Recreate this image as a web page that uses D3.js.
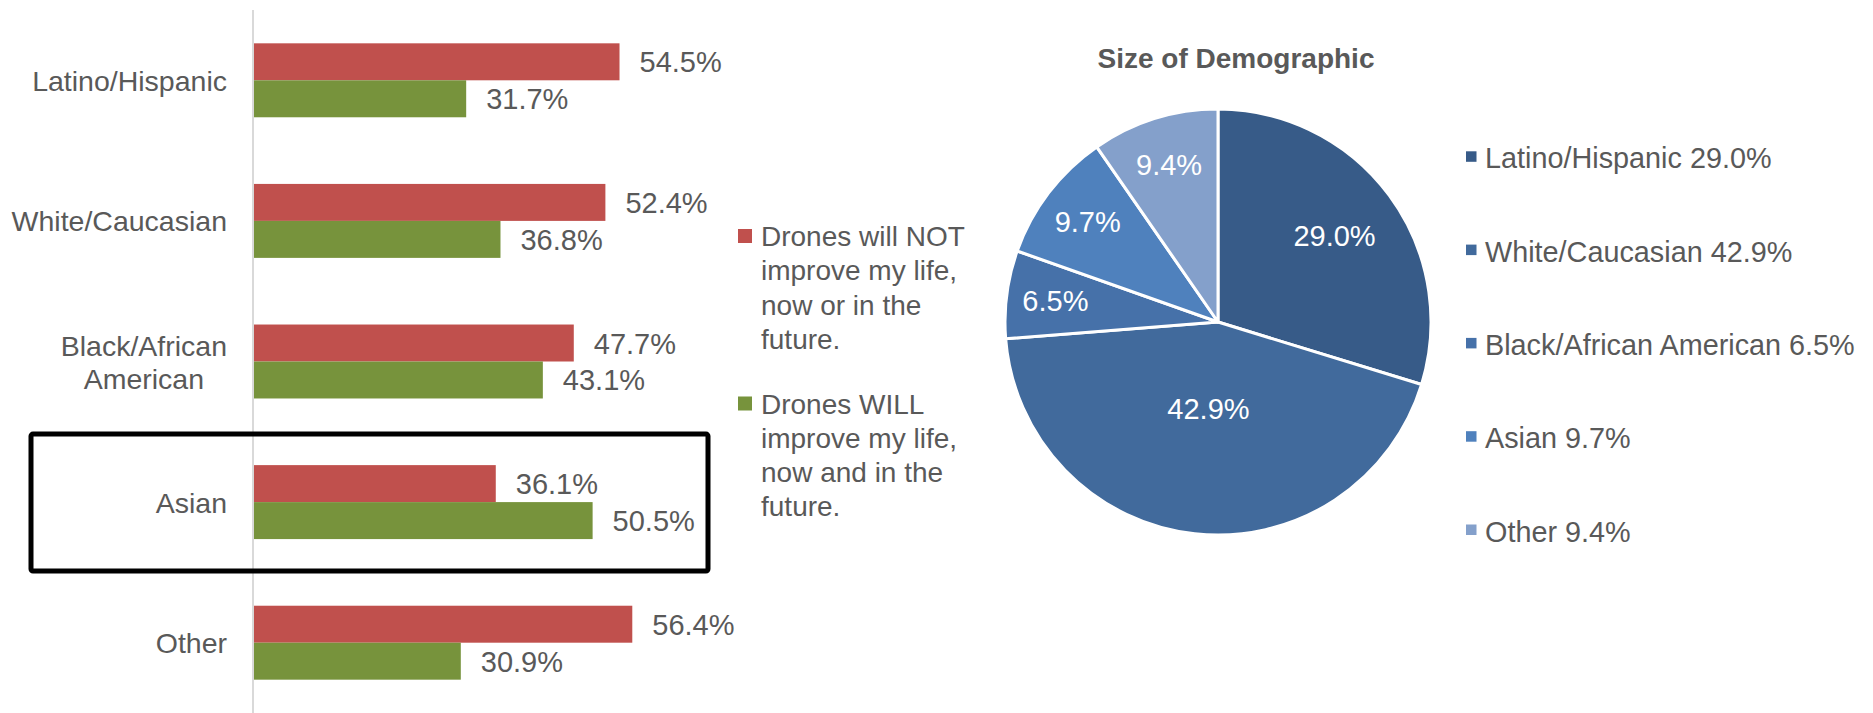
<!DOCTYPE html>
<html>
<head>
<meta charset="utf-8">
<script src="https://cdn.jsdelivr.net/npm/d3@7/dist/d3.min.js"></script>
<style>
  html, body { margin: 0; padding: 0; background: #ffffff; }
  svg { display: block; }
  text { font-family: "Liberation Sans", Arial, Helvetica, sans-serif; }
</style>
</head>
<body>
<svg id="chart" width="1873" height="713"></svg>
<script>
// ---------- data ----------
const categories = ["Latino/Hispanic", "White/Caucasian", "Black/African American", "Asian", "Other"];
const seriesNames = [
  "Drones will NOT improve my life, now or in the future.",
  "Drones WILL improve my life, now and in the future."
];
const notImprove = [54.5, 52.4, 47.7, 36.1, 56.4];
const willImprove = [31.7, 36.8, 43.1, 50.5, 30.9];
const pieTitle = "Size of Demographic";
const pieCategories = ["Latino/Hispanic", "White/Caucasian", "Black/African American", "Asian", "Other"];
const pieValues = [29.0, 42.9, 6.5, 9.7, 9.4];
const highlighted = "Asian";

// ---------- style ----------
const barColors = ["#C0504D", "#77933C"];
const pieColors = ["#375B88", "#416A9C", "#4671A9", "#4F81BD", "#84A0CB"];
const textColor = "#595959";
const catFont = 28.5, valFont = 29, legFont = 28, pieLegFont = 28.8, pieLblFont = 29, titleFont = 28;

const svg = d3.select("#chart");

// ---------- bar chart ----------
const x = d3.scaleLinear().domain([0, 60]).range([253, 656.5]);
const y = d3.scaleBand().domain(categories).range([10, 713]).paddingInner(0.474).paddingOuter(0.237);
const sub = d3.scaleBand().domain([0, 1]).range([0, y.bandwidth()]);
const series = [notImprove, willImprove];

const barG = svg.append("g");
series.forEach((vals, si) => {
  barG.selectAll(null).data(categories).enter().append("rect")
    .attr("x", x(0))
    .attr("y", d => y(d) + sub(si))
    .attr("width", (d, i) => x(vals[i]) - x(0))
    .attr("height", sub.bandwidth())
    .attr("fill", barColors[si]);
  barG.selectAll(null).data(categories).enter().append("text")
    .attr("x", (d, i) => x(vals[i]) + 20)
    .attr("y", d => y(d) + sub(si) + sub.bandwidth() / 2 + 10.5)
    .attr("font-size", valFont)
    .attr("fill", textColor)
    .text((d, i) => vals[i].toFixed(1) + "%");
});

// axis line (category axis)
const yAxis = d3.axisLeft(y).tickSize(0).tickFormat("");
const axG = svg.append("g").attr("transform", `translate(${x(0)},0)`).call(yAxis);
axG.select(".domain").attr("stroke", "#D9D9D9").attr("stroke-width", 2).attr("d", `M0,10V713`);

// text helpers
function wrapWords(text, maxW, measure) {
  const words = text.split(" ");
  const lines = [];
  let cur = "";
  words.forEach(w => {
    const t = cur ? cur + " " + w : w;
    if (cur && measure(t) > maxW) { lines.push(cur); cur = w; } else cur = t;
  });
  if (cur) lines.push(cur);
  return lines;
}
const measurer = svg.append("text").attr("visibility", "hidden");
function measure(t, size, weight) {
  measurer.attr("font-size", size).attr("font-weight", weight || "normal").text(t);
  return measurer.node().getComputedTextLength();
}

// category labels
const labelRight = 227;
categories.forEach(c => {
  const lines = wrapWords(c, 215, t => measure(t, catFont));
  const maxW = d3.max(lines, l => measure(l, catFont));
  const cy = y(c) + y.bandwidth() / 2;
  const lineH = 33;
  lines.forEach((l, i) => {
    const t = svg.append("text")
      .attr("font-size", catFont)
      .attr("fill", textColor)
      .attr("y", cy + 10.5 + (i - (lines.length - 1) / 2) * lineH)
      .text(l);
    if (lines.length > 1) t.attr("x", labelRight - maxW / 2).attr("text-anchor", "middle");
    else t.attr("x", labelRight).attr("text-anchor", "end");
  });
});

// highlight box
svg.append("rect")
  .attr("x", 31).attr("y", y(highlighted) - 31)
  .attr("width", 677).attr("height", 137)
  .attr("rx", 2)
  .attr("fill", "none").attr("stroke", "#000").attr("stroke-width", 5);

// bar legend
let legY = 246;
seriesNames.forEach((name, si) => {
  const lines = wrapWords(name, 220, t => measure(t, legFont));
  svg.append("rect").attr("x", 738).attr("y", legY - 17).attr("width", 14).attr("height", 14).attr("fill", barColors[si]);
  lines.forEach((l, i) => {
    svg.append("text").attr("x", 761).attr("y", legY + i * 34.3)
      .attr("font-size", legFont).attr("fill", textColor).text(l);
  });
  legY += 167.5;
});

// ---------- pie chart ----------
const cx = 1218, cyP = 322, r = 213;
svg.append("text").attr("x", 1236).attr("y", 68).attr("text-anchor", "middle")
  .attr("font-size", titleFont).attr("font-weight", "bold").attr("fill", textColor).text(pieTitle);

const pie = d3.pie().sort(null).value(d => d)(pieValues);
const arc = d3.arc().innerRadius(0).outerRadius(r);
const total = d3.sum(pieValues);
const pg = svg.append("g").attr("transform", `translate(${cx},${cyP})`);
pg.selectAll("path").data(pie).enter().append("path")
  .attr("d", arc)
  .attr("fill", (d, i) => pieColors[i])
  .attr("stroke", "#fff").attr("stroke-width", 3).attr("stroke-linejoin", "round");
pg.selectAll("text").data(pie).enter().append("text")
  .attr("transform", d => {
    const frac = d.value / total;
    const lr = frac > 0.4 ? 0.41 * r : (frac > 0.2 ? 0.68 * r : 0.77 * r);
    const a = (d.startAngle + d.endAngle) / 2;
    return `translate(${Math.sin(a) * lr},${-Math.cos(a) * lr + 10})`;
  })
  .attr("text-anchor", "middle")
  .attr("font-size", pieLblFont).attr("fill", "#fff")
  .text(d => d.value.toFixed(1) + "%");

// pie legend
pieCategories.forEach((c, i) => {
  const by = 168.3 + i * 93.3;
  svg.append("rect").attr("x", 1466).attr("y", by - 17).attr("width", 10.5).attr("height", 10.5).attr("fill", pieColors[i]);
  svg.append("text").attr("x", 1485).attr("y", by).attr("font-size", pieLegFont).attr("fill", textColor)
    .text(c + " " + pieValues[i].toFixed(1) + "%");
});
measurer.remove();
</script>
</body>
</html>
